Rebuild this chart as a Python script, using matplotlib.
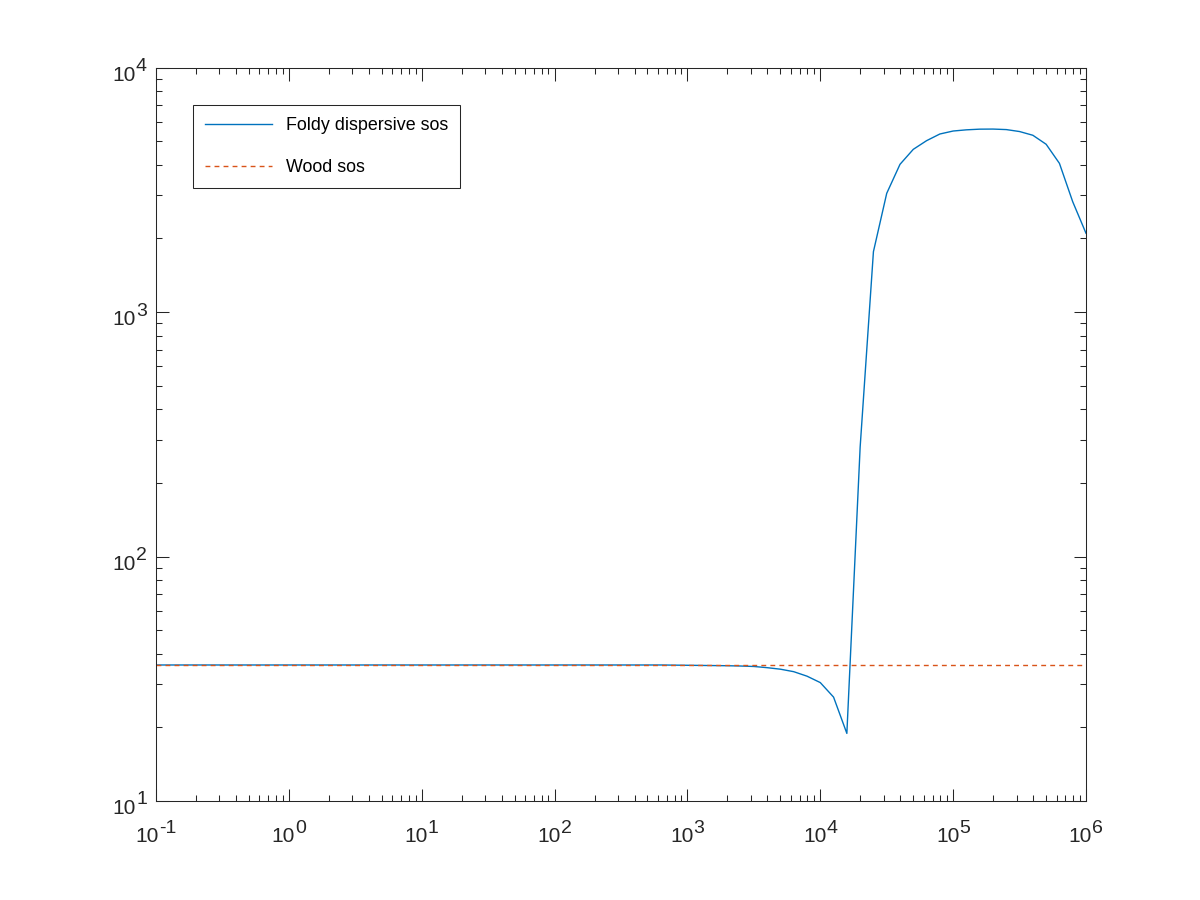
import numpy as np
import matplotlib.pyplot as plt
from matplotlib.ticker import LogLocator, NullFormatter
from matplotlib.transforms import IdentityTransform

plt.rcParams['font.family'] = ['Liberation Sans', 'DejaVu Sans']

# frequencias (log10) e velocidade do som
log_freq = [-1, 0, 1, 2, 2.8, 2.9, 3.0, 3.1, 3.2, 3.3, 3.4, 3.5, 3.6, 3.7,
            3.8, 3.9, 4.0, 4.1, 4.2, 4.3, 4.4, 4.5, 4.6, 4.7, 4.8, 4.9, 5.0,
            5.1, 5.2, 5.3, 5.4, 5.5, 5.6, 5.7, 5.8, 5.9, 6.0]
foldy_sos = [36.0, 36.0, 36.0, 36.0, 36.0, 35.95, 35.9, 35.85, 35.8, 35.75,
             35.65, 35.5, 35.1, 34.6, 33.8, 32.4, 30.5, 26.6, 18.9, 280,
             1765, 3057, 4018, 4627, 5020, 5346, 5498, 5560, 5595, 5600,
             5573, 5471, 5282, 4853, 4055, 2825, 2099]
wood_sos = 36.0

# expoentes dos rotulos dos eixos
x_exps = [-1, 0, 1, 2, 3, 4, 5, 6]
y_exps = [1, 2, 3, 4]

freq = 10.0 ** np.array(log_freq)
cor_eixo = '#262626'
H = 900

fig = plt.figure(figsize=(12, 9), dpi=100)
ax = fig.add_axes([0.13, 0.11, 0.775, 0.815])

ax.loglog(freq, foldy_sos, color='#0072BD', lw=1.0, label='Foldy dispersive sos')
ax.loglog(freq, np.full(len(freq), wood_sos), color='#D95319', lw=1.0,
          dashes=(3.5, 3), label='Wood sos')

ax.set_xlim(1e-1, 1e6)
ax.set_ylim(1e1, 1e4)

for eixo in (ax.xaxis, ax.yaxis):
    eixo.set_major_locator(LogLocator(base=10, numticks=20))
    eixo.set_minor_locator(LogLocator(base=10, subs=np.arange(2, 10), numticks=20))
    eixo.set_major_formatter(NullFormatter())
    eixo.set_minor_formatter(NullFormatter())

ax.tick_params(which='both', direction='in', top=True, right=True,
               color=cor_eixo, width=0.75)
ax.tick_params(which='major', length=9)
ax.tick_params(which='minor', length=4)
for s in ax.spines.values():
    s.set_color(cor_eixo)
    s.set_linewidth(0.75)

leg = ax.legend(loc='upper left', bbox_to_anchor=(193 / 1200, 1 - 105 / 900),
                bbox_transform=fig.transFigure, borderaxespad=0, fontsize=12.9,
                frameon=True, fancybox=False, handlelength=3.76,
                handletextpad=0.79, labelspacing=1.41, borderpad=0.66)
leg.get_frame().set_edgecolor(cor_eixo)
leg.get_frame().set_linewidth(0.75)
leg.get_frame().set_alpha(1)

# rotulos 10^n desenhados a mao (expoente quase do mesmo tamanho, estilo Octave)
fig.canvas.draw()
renderer = fig.canvas.get_renderer()
tam_base, tam_exp, subida, folga = 15, 14, 9.5, 0.0


def rotulo(e):
    t1 = fig.text(0, 0, '10', fontsize=tam_base, color=cor_eixo,
                  transform=IdentityTransform(), va='baseline', ha='left')
    t2 = fig.text(0, 0, str(e), fontsize=tam_exp, color=cor_eixo,
                  transform=IdentityTransform(), va='baseline', ha='left')
    w1 = t1.get_window_extent(renderer).width
    w2 = t2.get_window_extent(renderer).width
    return t1, t2, w1, w2


for e in x_exps:
    px = ax.transData.transform((10.0 ** e, 10.0))[0]
    t1, t2, w1, w2 = rotulo(e)
    esq = px - (w1 + folga + w2) / 2
    t1.set_position((esq, H - 842.5))
    t2.set_position((esq + w1 + folga, H - 842.5 + subida))

for e in y_exps:
    py = ax.transData.transform((0.1, 10.0 ** e))[1]
    t1, t2, w1, w2 = rotulo(e)
    dir_ = 147
    t2.set_position((dir_ - w2, py - 13 + subida))
    t1.set_position((dir_ - w2 - folga - w1, py - 13))

fig.savefig('out.png', dpi=100)
